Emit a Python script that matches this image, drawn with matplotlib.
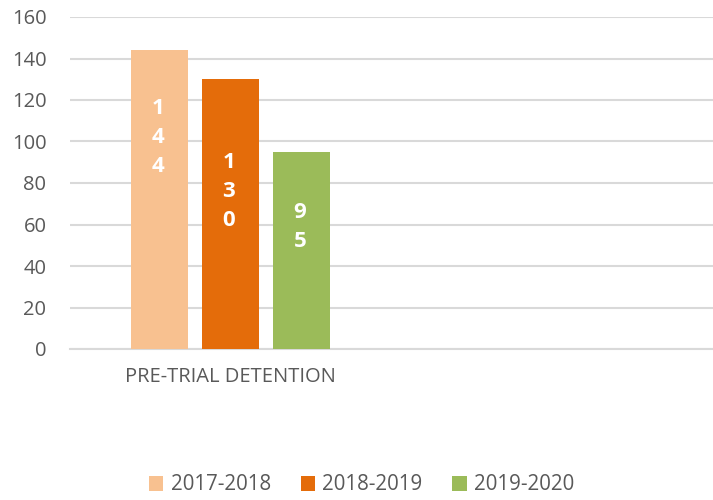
import matplotlib
matplotlib.use("Agg")
import matplotlib.pyplot as plt
from matplotlib.patches import Patch

categories = ["PRE-TRIAL DETENTION", ""]
series_names = ["2017-2018", "2018-2019", "2019-2020"]
values = {
    "2017-2018": [144, None],
    "2018-2019": [130, None],
    "2019-2020": [95, None],
}
colors = ["#F8C190", "#E46C0A", "#9BBB59"]
yticks = [0, 20, 40, 60, 80, 100, 120, 140, 160]
# vertical centre of each stacked-digit label (data units)
label_centers = [102, 76, 59]

plt.rcParams['font.family'] = ['Open Sans', 'DejaVu Sans']

fig = plt.figure(figsize=(7.13, 5.0), dpi=100)
ax = fig.add_axes([70/713, 1-349/500, 643/713, 332/500])

bar_w = 0.177
step = 0.221
for i, name in enumerate(series_names):
    off = (i - 1) * step
    for j, v in enumerate(values[name]):
        if v is None:
            continue
        ax.bar(j + off, v, width=bar_w, color=colors[i], zorder=3)
        txt = "\n".join(str(v))
        ax.text(j + off - 0.006, label_centers[i], txt, ha='center', va='center',
                color='white', fontsize=16, fontweight='bold', linespacing=1.5,
                zorder=4)

ax.set_xlim(-0.5, 1.5)
ax.set_ylim(0, 160)
ax.set_yticks(yticks)
ax.set_xticks(range(len(categories)))
ax.set_xticklabels(categories)
ax.grid(axis='y', color='#D9D9D9', linewidth=1.5, zorder=0)
for s in ['top', 'right', 'left']:
    ax.spines[s].set_visible(False)
ax.spines['bottom'].set_color('#D9D9D9')
ax.spines['bottom'].set_linewidth(1.5)
ax.tick_params(axis='y', length=0, pad=17, labelsize=14.5, labelcolor='#595959')
ax.tick_params(axis='x', length=0, pad=13, labelsize=14.5, labelcolor='#595959')

handles = [Patch(facecolor=c, edgecolor='none') for c in colors]
fig.legend(handles, series_names, loc='center', bbox_to_anchor=(0.507, 0.03),
           ncol=3, frameon=False, fontsize=14.8, labelcolor='#595959',
           handlelength=0.7, handleheight=0.7, handletextpad=0.35,
           columnspacing=1.45)

fig.savefig("out.png", dpi=100)
